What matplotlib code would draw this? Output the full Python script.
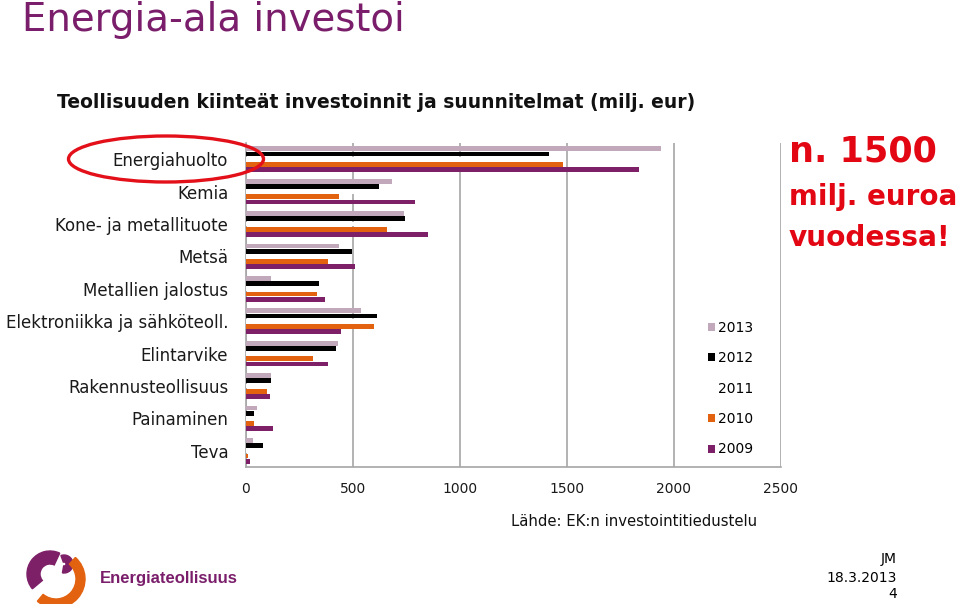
import matplotlib
matplotlib.use("Agg")
import matplotlib.pyplot as plt
import numpy as np
from matplotlib.patches import Ellipse, Wedge

# ---- data ----
categories = ["Energiahuolto", "Kemia", "Kone- ja metallituote", "Metsä",
              "Metallien jalostus", "Elektroniikka ja sähköteoll.", "Elintarvike",
              "Rakennusteollisuus", "Painaminen", "Teva"]
v2013 = [1940, 683, 741, 436, 121, 541, 432, 118, 54, 34]
v2012 = [1415, 622, 745, 496, 342, 612, 422, 118, 40, 82]
v2011 = [1200, 600, 800, 450, 300, 550, 400, 110, 50, 30]
v2010 = [1480, 436, 660, 384, 336, 601, 314, 99, 40, 14]
v2009 = [1835, 789, 850, 510, 373, 445, 383, 114, 127, 20]
years = ["2013", "2012", "2011", "2010", "2009"]
xticks = [0, 500, 1000, 1500, 2000, 2500]

series = [v2013, v2012, v2011, v2010, v2009]
colors = ["#c1a9bb", "#000000", "#ffffff", "#e2620f", "#7d2068"]
offsets = [-0.32, -0.16, 0.0, 0.16, 0.32]

plt.rcParams['font.family'] = ['DejaVu Sans']

fig = plt.figure(figsize=(9.6, 6.06), dpi=100)
W, H = 960, 606

ax = fig.add_axes([245.5 / W, 1 - 467 / H, (781 - 245.5) / W, (467 - 143) / H])
y = np.arange(len(categories))
handles = []
for vals, col, off, yr in zip(series, colors, offsets, years):
    b = ax.barh(y + off, vals, height=0.145, color=col, label=yr, zorder=3)
    handles.append(b)

ax.set_xlim(0, 2500)
ax.set_ylim(len(categories) - 0.5, -0.5)
ax.set_yticks(y)
ax.set_yticklabels(categories, fontsize=12, color="#1a1a1a")
ax.set_xticks(xticks)
ax.set_xticklabels([str(t) for t in xticks], fontsize=10, color="#1a1a1a")
ax.tick_params(axis='y', length=0, pad=12.5)
ax.tick_params(axis='x', length=0, pad=11)
ax.grid(axis='x', color="#a6a6a6", linewidth=1.2, zorder=0)
ax.set_axisbelow(True)
for s in ["top", "right"]:
    ax.spines[s].set_visible(False)
for s in ["left", "bottom"]:
    ax.spines[s].set_color("#a6a6a6")
    ax.spines[s].set_linewidth(1.2)

leg = fig.legend(handles=handles, labels=years, loc='center left',
                 bbox_to_anchor=(708 / W, 1 - 388.7 / H), frameon=False,
                 fontsize=10, handlelength=0.5, handleheight=0.5,
                 handletextpad=0.25, labelspacing=1.18, borderpad=0,
                 borderaxespad=0)

# titles
fig.text(22 / W, 1 - 31 / H, "Energia-ala investoi", fontsize=27.8,
         color="#7a1e6b", ha='left', va='baseline')
fig.text(57 / W, 1 - 103 / H,
         "Teollisuuden kiinteät investoinnit ja suunnitelmat (milj. eur)",
         fontsize=13.5, fontweight='bold', ha='left', va='center', color="#111111")

# red annotation
red = "#e30613"
fig.text(789 / W, 1 - 162 / H, "n. 1500", fontsize=25.2, fontweight='bold',
         color=red, ha='left', va='baseline')
fig.text(789 / W, 1 - 205 / H, "milj. euroa", fontsize=20, fontweight='bold',
         color=red, ha='left', va='baseline')
fig.text(789 / W, 1 - 246 / H, "vuodessa!", fontsize=20.2, fontweight='bold',
         color=red, ha='left', va='baseline')

# ellipse highlight
ell = Ellipse((166 / W, 1 - 159 / H), 195 / W, 46 / H, transform=fig.transFigure,
              fill=False, edgecolor="#e3101a", linewidth=2.4)
fig.add_artist(ell)

# source
fig.text(511 / W, 1 - 521 / H, "Lähde: EK:n investointitiedustelu", fontsize=10.7,
         ha='left', va='center', color="#111111")

# footer right
fig.text(897 / W, 1 - 559 / H, "JM", fontsize=10, ha='right', va='center')
fig.text(897 / W, 1 - 578 / H, "18.3.2013", fontsize=10, ha='right', va='center')
fig.text(897 / W, 1 - 594 / H, "4", fontsize=10, ha='right', va='center')

# logo
lax = fig.add_axes([20 / W, 1 - 604 / H, 70 / W, 56 / H])
lax.set_xlim(0, 70)
lax.set_ylim(0, 56)
lax.set_aspect('equal')
lax.axis('off')
lax.add_patch(Wedge((30, 30), 23, 65, 220, width=13, color="#7d2068"))
lax.add_patch(Wedge((44, 40), 9, -100, 110, width=7, color="#7d2068"))
lax.add_patch(Wedge((36, 25), 29, -130, 48, width=9, color="#e2620f"))
fig.text(100 / W, 1 - 578 / H, "Energiateollisuus", fontsize=12,
         family=['Liberation Sans'], fontweight='bold', color="#7a1e6b",
         ha='left', va='center')

fig.savefig("out.png", dpi=100)
